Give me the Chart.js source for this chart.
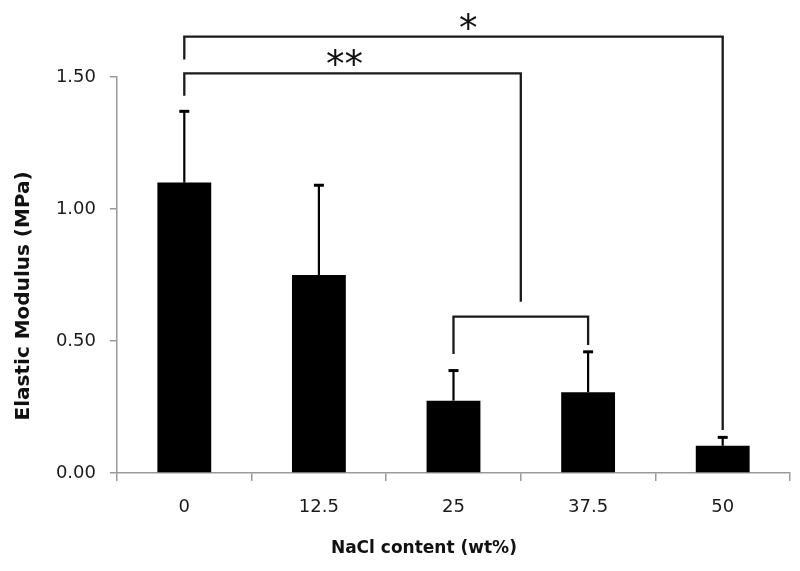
<!DOCTYPE html>
<html>
<head>
<meta charset="utf-8">
<script src="https://cdn.jsdelivr.net/npm/chart.js@4.4.0/dist/chart.umd.min.js"></script>
<style>
html,body{margin:0;padding:0;background:#fff;}
</style>
</head>
<body>
<canvas id="myChart" width="800" height="571"></canvas>
<script>
const nacl=["0","12.5","25","37.5","50"];
const modulus=[1.10,0.75,0.274,0.306,0.103];
const sd=[0.27,0.34,0.114,0.153,0.032];
const yTicks=[0,0.5,1.0,1.5];

// significance brackets (category index for x, MPa for y)
const brackets=[
  {from:0,to:4,level:1.653,ends:[1.566,0.163],label:"*",labelX:2.11,labelY:1.712},
  {from:0,to:2.5,level:1.514,ends:[1.429,0.649],label:"**",labelX:1.19,labelY:1.575},
  {from:2,to:3,level:0.592,ends:[0.451,0.485],label:"",labelX:2.5,labelY:0.6}
];

const font='DejaVu Sans';
// titles sit off-centre in the original, pad with trailing spaces
const pad=n=>"\u00a0".repeat(n);

const errPlugin={
  id:'errbars',
  afterDatasetsDraw(chart){
    const ctx=chart.ctx, y=chart.scales.y;
    chart.getDatasetMeta(0).data.forEach((bar,i)=>{
      const top=y.getPixelForValue(modulus[i]+sd[i]);
      ctx.save();
      ctx.strokeStyle='#000';
      ctx.lineWidth=2.2;
      ctx.beginPath();
      ctx.moveTo(bar.x,bar.y);
      ctx.lineTo(bar.x,top);
      ctx.stroke();
      ctx.lineWidth=3;
      ctx.beginPath();
      ctx.moveTo(bar.x-5,top);
      ctx.lineTo(bar.x+5,top);
      ctx.stroke();
      ctx.restore();
    });
  }
};

const bracketPlugin={
  id:'brackets',
  afterDraw(chart){
    const ctx=chart.ctx, x=chart.scales.x, y=chart.scales.y;
    ctx.save();
    ctx.strokeStyle='#1a1a1a';
    ctx.lineWidth=2.3;
    for(const b of brackets){
      const x1=x.getPixelForValue(b.from), x2=x.getPixelForValue(b.to);
      const yl=y.getPixelForValue(b.level);
      ctx.beginPath();
      ctx.moveTo(x1,y.getPixelForValue(b.ends[0]));
      ctx.lineTo(x1,yl);
      ctx.lineTo(x2,yl);
      ctx.lineTo(x2,y.getPixelForValue(b.ends[1]));
      ctx.stroke();
      if(b.label){
        ctx.font='37px "'+font+'"';
        ctx.fillStyle='#111';
        ctx.textAlign='center';
        ctx.textBaseline='alphabetic';
        const m=ctx.measureText(b.label);
        const cy=y.getPixelForValue(b.labelY);
        const base=cy+(m.actualBoundingBoxAscent-m.actualBoundingBoxDescent)/2;
        ctx.fillText(b.label,x.getPixelForValue(b.labelX),base);
      }
    }
    ctx.restore();
  }
};

new Chart("myChart",{
  type:"bar",
  data:{
    labels:nacl,
    datasets:[{
      data:modulus,
      backgroundColor:"#000",
      borderWidth:0,
      barPercentage:0.8,
      categoryPercentage:0.5
    }]
  },
  options:{
    responsive:false,
    animation:false,
    layout:{padding:{top:77,right:10,left:0,bottom:0}},
    plugins:{legend:{display:false},tooltip:{enabled:false}},
    scales:{
      x:{
        grid:{offset:true,drawOnChartArea:false,drawTicks:true,tickLength:8,color:"#9a9a9a",lineWidth:1.5},
        border:{color:"#9a9a9a",width:1.5},
        ticks:{color:"#1a1a1a",font:{family:font,size:18},padding:16},
        title:{display:true,text:"NaCl content (wt%)"+pad(10),color:"#111",font:{family:font,size:17,weight:"bold"},padding:{top:0,bottom:12}},
        afterFit(s){s.height=98;}
      },
      y:{
        min:0,max:1.5,
        afterBuildTicks(s){s.ticks=yTicks.map(v=>({value:v}));},
        grid:{drawOnChartArea:false,drawTicks:true,tickLength:7,color:"#9a9a9a",lineWidth:1.5},
        border:{color:"#9a9a9a",width:1.5},
        ticks:{color:"#1a1a1a",font:{family:font,size:18},padding:14,callback:v=>v.toFixed(2)},
        title:{display:true,text:"Elastic Modulus (MPa)"+pad(6),color:"#111",font:{family:font,size:20,weight:"bold"},padding:{top:12,bottom:0}},
        afterFit(s){s.width=117;}
      }
    }
  },
  plugins:[errPlugin,bracketPlugin]
});
</script>
</body>
</html>
